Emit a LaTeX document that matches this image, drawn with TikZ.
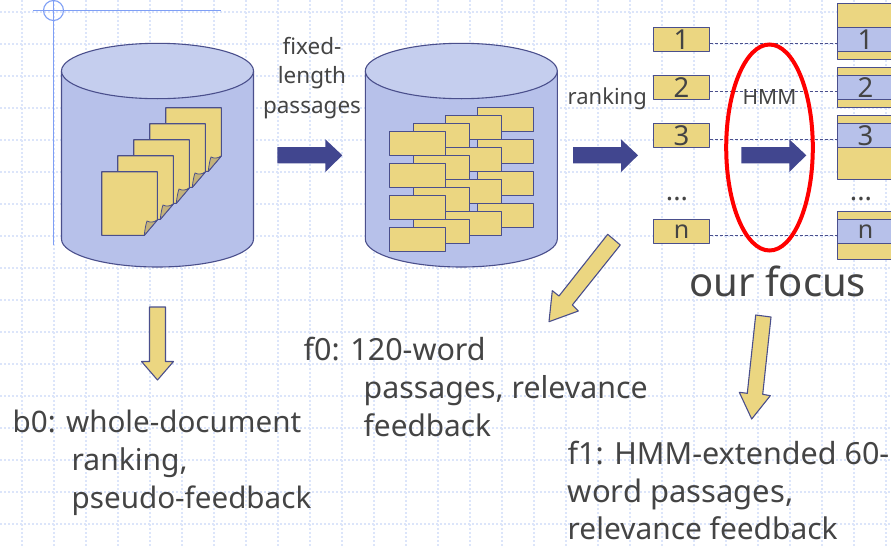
\documentclass[tikz,border=0pt]{standalone}
\usepackage{fontspec}
\setmainfont{Noto Sans}
\newcommand{\capfont}[1]{\fontsize{#1}{#1}\selectfont}
\begin{document}
\begin{tikzpicture}[x=1pt,y=-1pt,
  edgeline/.style={draw=edgeC,line width=1.1pt,line join=round},
  yellowshape/.style={edgeline,fill=yellowC},
  passage/.style={yellowshape,rectangle,minimum width=56.4pt,minimum height=24pt,inner sep=0pt,outer sep=0pt},
  rankbox/.style={passage,text=textC,font=\fontsize{27.5}{27.5}\selectfont},
  bluebox/.style={rankbox,fill=blueC},
  band/.style={passage},
  blockarrow/.style={fill=navyC,draw=none},
  yellowarrow/.style={yellowshape},
  link/.style={draw=edgeC,line width=0.9pt,dash pattern=on 3pt off 2pt},
  caption/.style={anchor=base west,inner sep=0pt,text=textC},
  smalltext/.style={align=center,inner sep=0pt,text=textC,font=\fontsize{22.5}{29.5}\selectfont},
  guideline/.style={draw=guideC,line width=1.1pt}]
\definecolor{edgeC}{HTML}{4A4F8C}
\definecolor{yellowC}{HTML}{EBD681}
\definecolor{foldC}{HTML}{C4B27A}
\definecolor{blueC}{HTML}{B7C1EA}
\definecolor{blueTop}{HTML}{C5CEEE}
\definecolor{navyC}{HTML}{41468F}
\definecolor{textC}{HTML}{444444}
\definecolor{gridC}{HTML}{DCE5FA}
\definecolor{guideC}{HTML}{7F9FF5}
\useasboundingbox (0,0) rectangle (891,546);
\clip (0,0) rectangle (891,546);
\fill[white] (0,0) rectangle (891,546);
% grid
\foreach \yy in {12,44,...,556} \draw[gridC,line width=1.2pt,dash pattern=on 2pt off 2pt] (0,\yy) -- (891,\yy);
\foreach \xx in {22,54,...,886} \draw[gridC,line width=1.2pt,dash pattern=on 2pt off 2pt] (\xx,0) -- (\xx,546);
% guides
\draw[guideline] (33,10.5) -- (221,10.5);
\draw[guideline] (53.5,0) -- (53.5,245);
\draw[guideline] (53.5,10.5) circle (10);
% cylinders
\foreach \cx in {157.5,461.3}{
  \draw[edgeline,fill=blueC] (\cx-96,71) -- (\cx-96,239) .. controls (\cx-96,254.5) and (\cx-53,267) .. (\cx,267) .. controls (\cx+53,267) and (\cx+96,254.5) .. (\cx+96,239) -- (\cx+96,71) -- cycle;
  \draw[edgeline,fill=blueTop] (\cx,71) ellipse (96 and 27.7);
}
% pages
\foreach \k in {4,3,2,1,0}{
  \begin{scope}[shift={(16*\k,-16*\k)}]
    \draw[yellowshape] (101.7,171.7) -- (157.3,171.7) -- (157.3,220) -- (144.3,235.3) -- (101.7,235.3) -- cycle;
    \draw[edgeline,fill=foldC,line width=0.8pt] (144.3,235.3) .. controls (145,228) and (146,224) .. (147,221) .. controls (151,223) and (154,222) .. (157.3,220) -- cycle;
  \end{scope}
}
% passages
\foreach \col/\xx/\yy in {3/505.5/119.3,2/473.5/127.3,1/441.5/135.3}{
  \foreach \k in {3,2,1,0} \node[passage] (pc\col k\k) at (\xx,\yy+32*\k) {};
}
\foreach \k in {3,2,1,0} \node[passage] (pf\k) at (417.5,143.3+32*\k) {};
% right bands
\node[band,minimum height=56pt] (y1) at (865.5,31.3) {};
\node[band,minimum height=40pt] (y2) at (865.5,87.3) {};
\node[band,minimum height=64pt] (y3) at (865.5,147.3) {};
\node[band,minimum height=48pt] (yn) at (865.5,235.3) {};
% rank boxes
\node[rankbox] (l1) at (681.5,39.3) {1};
\node[rankbox] (l2) at (681.5,87.3) {2};
\node[rankbox] (l3) at (681.5,135.3) {3};
\node[rankbox,font=\capfont{25}] (ln) at (681.5,231.3) {n};
\node[bluebox] (r1) at (865.5,39.3) {1};
\node[bluebox] (r2) at (865.5,87.3) {2};
\node[bluebox] (r3) at (865.5,135.3) {3};
\node[bluebox,font=\capfont{25}] (rn) at (865.5,231.3) {n};
\foreach \a/\b in {l1/r1,l2/r2,l3/r3,ln/rn}{
  \draw[link] ([yshift=-4pt]\a.east) -- ([yshift=-4pt]\b.west);
}
\node[rankbox,draw=none,fill=none] (d1) at (677,199) {...};
\node[rankbox,draw=none,fill=none] (d2) at (861,199) {...};
% block arrows
\foreach \xx in {277.3,573,741.3}
  \fill[blockarrow] (\xx,147) -- (\xx+48,147) -- (\xx+48,139.3) -- (\xx+65,155.3) -- (\xx+48,172) -- (\xx+48,163.3) -- (\xx,163.3) -- cycle;
% red ellipse
\draw[red,line width=4pt] (769.5,147.5) ellipse (43.3 and 103);
% yellow arrows
\draw[yellowarrow] (149.5,307) -- (165.5,307) -- (165.5,361.5) -- (173.5,361.5) -- (157.5,380) -- (141.5,361.5) -- (149.5,361.5) -- cycle;
\draw[yellowarrow] (607.7,234.3) -- (620.3,245) -- (572.3,305) -- (578.3,311) -- (549,321.7) -- (552.3,290.7) -- (559,296) -- cycle;
\draw[yellowarrow] (755.7,315) -- (771,317) -- (762.7,394.3) -- (770.3,395.7) -- (751.7,419) -- (739.3,392.3) -- (747.3,393.3) -- cycle;
% text
\node[smalltext] (fixed) at (312,78) {fixed-\\length\\passages};
\node[smalltext,anchor=base west,font=\capfont{22}] (rank) at (567.5,104) {ranking};
\node[smalltext,anchor=base,font=\capfont{21}] (hmm) at (769.5,104) {HMM};
\node[caption,font=\capfont{40}] (focus) at (689,296) {our focus};
\node[caption,font=\capfont{29.6}] (b0a) at (12.5,432) {b0: whole-document};
\node[caption,font=\capfont{30}] (b0b) at (71.5,470) {ranking,};
\node[caption,font=\capfont{29.6}] (b0c) at (71.5,508) {pseudo-feedback};
\node[caption,font=\capfont{30.5}] (f0a) at (303.5,360) {f0: 120-word};
\node[caption,font=\capfont{30.3}] (f0b) at (363.5,398) {passages, relevance};
\node[caption,font=\capfont{29.8}] (f0c) at (363.5,436) {feedback};
\node[caption,font=\capfont{30.5}] (f1a) at (567.5,464) {f1: HMM-extended 60-};
\node[caption,font=\capfont{31}] (f1b) at (567.5,502) {word passages,};
\node[caption,font=\capfont{29.9}] (f1c) at (567.5,539) {relevance feedback};
\end{tikzpicture}
\end{document}
